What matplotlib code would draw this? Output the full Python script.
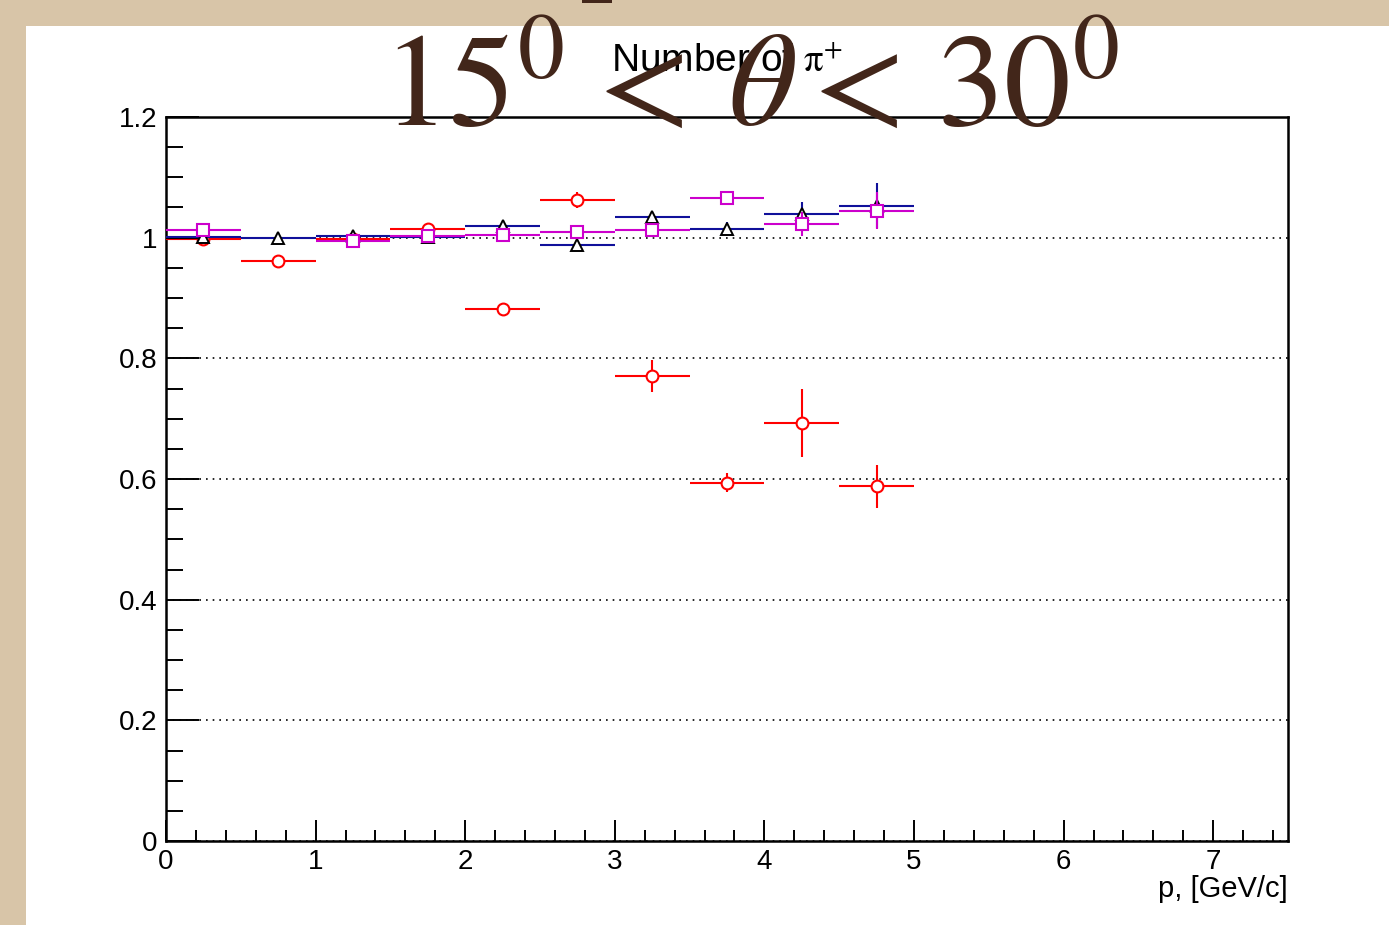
import matplotlib
matplotlib.use("Agg")
import matplotlib.pyplot as plt
from matplotlib.patches import Rectangle
from matplotlib.ticker import MultipleLocator

plt.rcParams["font.family"] = ["Liberation Sans", "DejaVu Sans"]
plt.rcParams["mathtext.fontset"] = "stix"

# momentum bins (GeV/c), width 0.5
p_center = [0.25, 0.75, 1.25, 1.75, 2.25, 2.75, 3.25, 3.75, 4.25, 4.75]
p_half = 0.25

# ratio, open red circles
red_y = [0.998, 0.961, 0.997, 1.014, 0.881, 1.062, 0.771, 0.594, 0.693, 0.588]
red_err = [0.004, 0.004, 0.004, 0.006, 0.006, 0.013, 0.027, 0.016, 0.056, 0.036]

# ratio, navy bars with black open triangles
tri_y = [1.001, 1.000, 1.002, 1.001, 1.020, 0.988, 1.035, 1.014, 1.040, 1.053]
tri_err = [0.002, 0.002, 0.003, 0.003, 0.004, 0.005, 0.006, 0.012, 0.019, 0.037]

# ratio, magenta open squares (no entry in the 0.5-1.0 bin)
mag_x = [0.25, 1.25, 1.75, 2.25, 2.75, 3.25, 3.75, 4.25, 4.75]
mag_y = [1.013, 0.995, 1.002, 1.004, 1.010, 1.012, 1.066, 1.023, 1.045]
mag_err = [0.004, 0.004, 0.004, 0.005, 0.006, 0.007, 0.012, 0.020, 0.031]

# short black segment in the first bin
ref_x = [0.125]
ref_y = [1.0]
ref_half = [0.125]

W, H = 1389, 925
fig = plt.figure(figsize=(W / 100, H / 100), dpi=100)
fig.patch.set_facecolor("#d8c5a8")
fig.add_artist(Rectangle((26 / W, 0), 1 - 26 / W, 899 / H, transform=fig.transFigure,
                         facecolor="white", edgecolor="none", zorder=0))
fig.add_artist(Rectangle((582 / W, 1 - 3 / H), 30 / W, 3 / H, transform=fig.transFigure,
                         facecolor="#42261a", edgecolor="none", zorder=0))

ax = fig.add_axes([166 / W, 84 / H, (1288 - 166) / W, (841 - 117) / H])
ax.set_facecolor("white")

lw = 1.5
ax.errorbar(p_center, red_y, xerr=p_half, yerr=red_err, fmt="o", color="red",
            mfc="white", mec="red", ms=8.5, mew=1.5, elinewidth=lw, capsize=0, zorder=3)
ax.errorbar(ref_x, ref_y, xerr=ref_half, fmt="none", ecolor="black",
            elinewidth=lw, capsize=0, zorder=3.5)
ax.errorbar(p_center, tri_y, xerr=p_half, yerr=tri_err, fmt="^", color="#10109a",
            ecolor="#10109a", mfc="white", mec="black", ms=9, mew=1.4,
            elinewidth=lw, capsize=0, zorder=4)
ax.errorbar(mag_x, mag_y, xerr=p_half, yerr=mag_err, fmt="s", color="#cc00cc",
            mfc="white", mec="#cc00cc", ms=8, mew=1.5, elinewidth=lw, capsize=0, zorder=5)

ax.set_xlim(0, 7.5)
ax.set_ylim(0, 1.2)

ax.xaxis.set_major_locator(MultipleLocator(1))
ax.xaxis.set_minor_locator(MultipleLocator(0.2))
ax.yaxis.set_major_locator(MultipleLocator(0.2))
ax.yaxis.set_minor_locator(MultipleLocator(0.05))
ax.set_yticks([0, 0.2, 0.4, 0.6, 0.8, 1.0, 1.2])
ax.set_yticklabels(["0", "0.2", "0.4", "0.6", "0.8", "1", "1.2"])

ax.tick_params(axis="both", which="both", direction="in", top=False, right=False,
               labelsize=20, width=1.4, color="black")
ax.tick_params(axis="y", which="major", length=24, pad=6)
ax.tick_params(axis="y", which="minor", length=12)
ax.tick_params(axis="x", which="major", length=15, pad=6)
ax.tick_params(axis="x", which="minor", length=8)

for s in ax.spines.values():
    s.set_linewidth(1.8)

ax.yaxis.grid(True, which="major", color="black", linestyle=(0, (1, 3)), linewidth=1.2)
ax.set_axisbelow(True)

ax.set_xlabel("p, [GeV/c]", fontsize=21, loc="right", labelpad=0)

fig.text(727 / W, 1 - 71 / H, r"Number of $\mathrm{\pi}^{+}$", fontsize=28, ha="center",
         va="baseline", color="black", zorder=5)
fig.text(751 / W, 1 - 125 / H,
         r"$15^0\hspace{0.1}<\hspace{0.2}\theta\hspace{0.02}<\hspace{0.13}30^0$",
         fontsize=96, ha="center", va="baseline", color="#42261a", zorder=6)

fig.savefig("out.png", dpi=100)
